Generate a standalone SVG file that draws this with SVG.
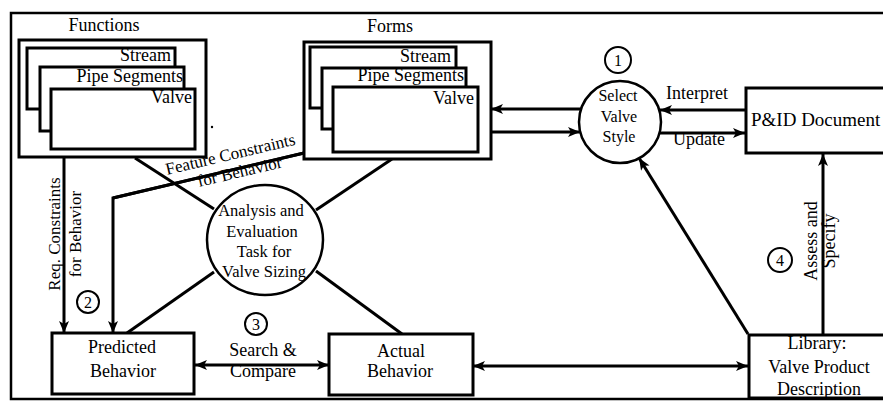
<svg xmlns="http://www.w3.org/2000/svg" width="883" height="402" viewBox="0 0 883 402" font-family="'Liberation Serif', 'Times New Roman', serif">
<defs>
<style>
text{font-family:"Liberation Serif","Times New Roman",serif;fill:#000}
.t18{font-size:18px}
.t17{font-size:17px}
.t16{font-size:16px}
.box{fill:#fff;stroke:#000;stroke-width:3}
.frame{fill:none;stroke:#000;stroke-width:2.5}
.ln{fill:none;stroke:#000;stroke-width:3}
.circ{fill:#fff;stroke:#000;stroke-width:2.5}
.num{fill:#fff;stroke:#000;stroke-width:2}
.c{text-anchor:middle}
.e{text-anchor:end}
</style>
<marker id="ah" viewBox="0 0 12 10" refX="12" refY="5" markerWidth="12" markerHeight="10" orient="auto-start-reverse" markerUnits="userSpaceOnUse">
<path d="M0,0 L12,5 L0,10 L3,5 z" fill="#000"/>
</marker>
</defs>
<rect width="883" height="402" fill="#fff"/>
<path class="frame" d="M885,13 L11,13 L11,399 L885,399"/>

<g id="connectors">
<line class="ln" x1="64" y1="157" x2="64" y2="333" marker-end="url(#ah)"/>
<polyline class="ln" points="304,153 113,198 113,333" marker-end="url(#ah)"/>
<line class="ln" x1="135" y1="158" x2="214" y2="209"/>
<line class="ln" x1="392" y1="159" x2="316" y2="210"/>
<line class="ln" x1="214" y1="272" x2="127" y2="333"/>
<line class="ln" x1="316" y1="271" x2="402" y2="334"/>
<line class="ln" x1="195" y1="365" x2="329" y2="365" marker-start="url(#ah)" marker-end="url(#ah)"/>
<line class="ln" x1="473" y1="366" x2="748" y2="366" marker-start="url(#ah)" marker-end="url(#ah)"/>
<line class="ln" x1="581" y1="109" x2="491" y2="109" marker-end="url(#ah)"/>
<line class="ln" x1="491" y1="132" x2="580" y2="132" marker-end="url(#ah)"/>
<line class="ln" x1="745" y1="110" x2="660" y2="110" marker-end="url(#ah)"/>
<line class="ln" x1="659" y1="133" x2="745" y2="133" marker-end="url(#ah)"/>
<line class="ln" x1="748" y1="334" x2="639" y2="158" marker-end="url(#ah)"/>
<line class="ln" x1="823" y1="335" x2="823" y2="154" marker-end="url(#ah)"/>
</g>

<g id="labels">
<text class="t17 c" transform="translate(60,234) rotate(-90)">Req. Constraints</text>
<text class="t17 c" transform="translate(81,234) rotate(-90)">for Behavior</text>
<text class="t17" transform="translate(167,175) rotate(-13.3)">Feature Constraints</text>
<text class="t17" transform="translate(199,187) rotate(-13.3)">for Behavior</text>
<text class="t18 c" x="697" y="99">Interpret</text>
<text class="t18 c" x="699" y="145">Update</text>
<text class="t18 c" x="263" y="356">Search &amp;</text>
<text class="t18 c" x="263" y="377">Compare</text>
<text class="t18 c" transform="translate(817,241) rotate(-90)">Assess and</text>
<text class="t18 c" transform="translate(835,241) rotate(-90)">Specify</text>
</g>
<line class="ln" x1="304" y1="153" x2="113" y2="198"/>

<g id="functions">
<text class="t18 c" x="104" y="31">Functions</text>
<rect class="box" x="19" y="40" width="187" height="117"/>
<rect class="box" x="27" y="48" width="148" height="61"/>
<text class="t18 e" x="171" y="61">Stream</text>
<rect class="box" x="40" y="67" width="144" height="64"/>
<text class="t18 e" x="183" y="82">Pipe Segments</text>
<rect class="box" x="51" y="89" width="144" height="60"/>
<text class="t18 e" x="192" y="103">Valve</text>
<circle cx="212" cy="127" r="1.2" fill="#000"/>
</g>

<g id="forms">
<text class="t18 c" x="390" y="32">Forms</text>
<rect class="box" x="304" y="42" width="187" height="117"/>
<rect class="box" x="310" y="47" width="146" height="61"/>
<text class="t18 e" x="451" y="62">Stream</text>
<rect class="box" x="322" y="68" width="144" height="61"/>
<text class="t18 e" x="464" y="81">Pipe Segments</text>
<rect class="box" x="333" y="87" width="145" height="65"/>
<text class="t18 e" x="474" y="104">Valve</text>
</g>

<g id="select-valve-style">
<circle class="circ" cx="620" cy="122" r="41"/>
<text class="t16 c" x="618" y="101">Select</text>
<text class="t16 c" x="619" y="122">Valve</text>
<text class="t16 c" x="619" y="142">Style</text>
</g>

<g id="num1"><circle class="num" cx="618" cy="60" r="13"/><text class="t16 c" x="618" y="66">1</text></g>
<g id="num2"><circle class="num" cx="88" cy="302" r="11"/><text class="t16 c" x="88" y="308">2</text></g>
<g id="num3"><circle class="num" cx="256" cy="324" r="11"/><text class="t16 c" x="256" y="330">3</text></g>
<g id="num4"><circle class="num" cx="780" cy="260" r="12"/><text class="t16 c" x="780" y="266">4</text></g>

<g id="pid-document">
<rect class="box" x="746" y="88" width="150" height="65"/>
<text class="t18" x="751" y="126" style="font-size:19px">P&amp;ID Document</text>
</g>

<g id="analysis">
<ellipse class="circ" cx="265" cy="240" rx="58" ry="55"/>
<text class="t16 c" x="261" y="216" style="font-size:16.5px">Analysis and</text>
<text class="t16 c" x="262" y="237" style="font-size:16.5px">Evaluation</text>
<text class="t16 c" x="264" y="257" style="font-size:16.5px">Task for</text>
<text class="t16 c" x="264" y="277" style="font-size:16.5px">Valve Sizing</text>
</g>

<g id="predicted-behavior">
<rect class="box" x="52" y="333" width="142" height="61"/>
<text class="t18 c" x="122" y="353">Predicted</text>
<text class="t18 c" x="123" y="377">Behavior</text>
</g>

<g id="actual-behavior">
<rect class="box" x="329" y="334" width="144" height="61"/>
<text class="t18 c" x="401" y="357">Actual</text>
<text class="t18 c" x="400" y="377">Behavior</text>
</g>

<g id="library">
<rect class="box" x="749" y="335" width="150" height="63"/>
<text class="t18 c" x="817" y="349">Library:</text>
<text class="t18 c" x="819" y="373">Valve Product</text>
<text class="t18 c" x="819" y="395">Description</text>
</g>
</svg>
